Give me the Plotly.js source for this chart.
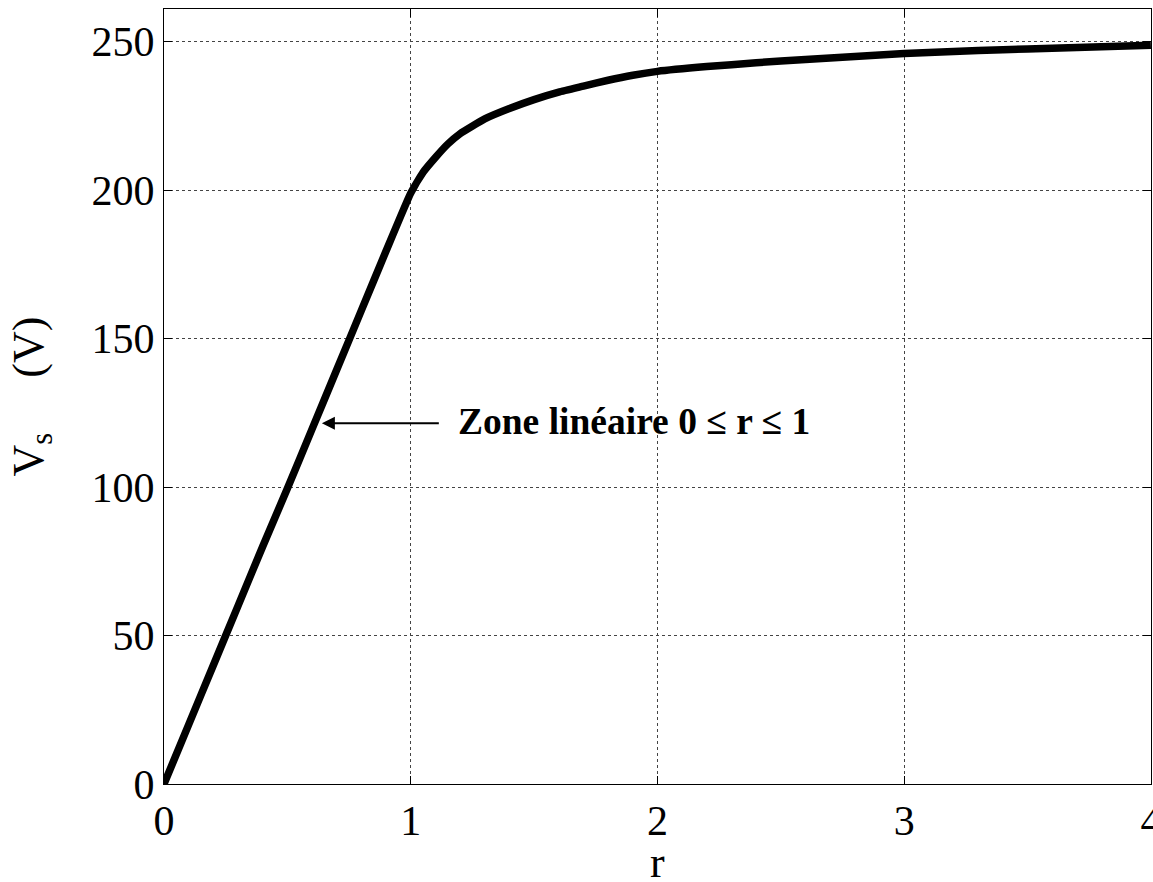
<!DOCTYPE html>
<html>
<head>
<meta charset="utf-8">
<script src="https://cdn.plot.ly/plotly-3.0.1.min.js"></script>
<style>html,body{margin:0;padding:0;background:#fff;}#chart{width:1153px;height:882px;}</style>
</head>
<body>
<div id="chart"></div>
<script>
const rValues = [0, 0.1, 0.2, 0.3, 0.4, 0.5, 0.6, 0.7, 0.8, 0.9, 1.0,
  1.05, 1.1, 1.15, 1.2, 1.3, 1.4, 1.5, 1.6, 1.7, 1.8, 1.9, 2.0,
  2.2, 2.4, 2.6, 2.8, 3.0, 3.2, 3.4, 3.6, 3.8, 4.0];
const vsValues = [0, 20, 40, 60, 80, 99.5, 119.5, 139.5, 159.5, 179.5, 199,
  206, 211, 215.5, 219, 224, 227.5, 230.5, 233, 235, 237, 238.7, 240,
  241.6, 242.9, 244, 245, 246, 246.7, 247.3, 247.8, 248.3, 248.8];
const xTicks = [0, 1, 2, 3, 4];
const yTicks = [0, 50, 100, 150, 200, 250];
const annotationText = "Zone linéaire 0 ≤ r ≤ 1";
const xTitle = "r";

const serif = "Liberation Serif, Times New Roman, serif";

const trace = {
  x: rValues, y: vsValues, type: 'scatter', mode: 'lines',
  line: {color: '#000', width: 7.5, shape: 'spline', smoothing: 0.4}, hoverinfo: 'skip'
};

const axisCommon = {
  showline: true, linecolor: '#000', linewidth: 1, mirror: 'ticks',
  ticks: 'inside', ticklen: 8, tickcolor: '#000', tickwidth: 1,
  showgrid: true, gridcolor: '#444', gridwidth: 1, griddash: '3px,3px',
  zeroline: false, ticklabeloverflow: 'allow',
  tickfont: {family: serif, size: 42, color: '#000'}
};

const nb = '\u00A0';
const layout = {
  width: 1153, height: 882,
  margin: {l: 164, r: 2, t: 9, b: 98},
  paper_bgcolor: '#fff', plot_bgcolor: '#fff',
  showlegend: false,
  xaxis: Object.assign({}, axisCommon, {
    range: [0, 4.0005], tickvals: xTicks, ticktext: xTicks.map(String),
    automargin: false
  }),
  yaxis: Object.assign({}, axisCommon, {
    range: [0, 261], tickvals: yTicks, ticktext: yTicks.map(String),
    title: {text: 'V<sub>s</sub>' + nb + nb + nb + nb + nb + '(V)', font: {family: serif, size: 44, color: '#000'}, standoff: 34},
    automargin: false
  }),
  annotations: [
    {x: 0.64, y: 121.5, xref: 'x', yref: 'y', text: '', showarrow: true,
     axref: 'x', ayref: 'y', ax: 1.12, ay: 121.5,
     arrowhead: 2, arrowsize: 1.3, arrowwidth: 2, arrowcolor: '#000'},
    {x: 1.185, y: 122, xref: 'x', yref: 'y', text: '<b>' + annotationText + '</b>',
     showarrow: false, xanchor: 'left', yanchor: 'middle',
     font: {family: serif, size: 37.5, color: '#000'}},
    {x: 2, y: 0, xref: 'x', yref: 'paper', text: xTitle, showarrow: false,
     xanchor: 'center', yanchor: 'top', yshift: -52,
     font: {family: serif, size: 44, color: '#000'}}
  ]
};

Plotly.newPlot('chart', [trace], layout, {displayModeBar: false, staticPlot: true});
</script>
</body>
</html>
